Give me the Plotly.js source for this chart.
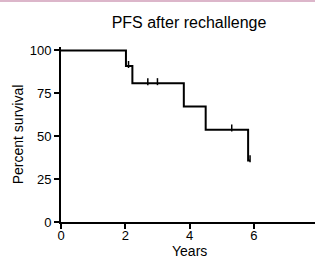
<!DOCTYPE html>
<html>
<head>
<meta charset="utf-8">
<script src="https://cdn.plot.ly/plotly-3.0.1.min.js"></script>
<style>
html,body{margin:0;padding:0;background:#fff;}
#bar{position:absolute;left:0;top:0;width:315px;height:2px;background:#dcb6ca;z-index:10;}
#chart{width:315px;height:262px;}
</style>
</head>
<body>
<div id="bar"></div>
<div id="chart"></div>
<script>
// Kaplan-Meier step curve
const stepTimes = [0, 2.02, 2.22, 3.82, 4.5, 5.82, 5.88];
const survival  = [100, 90.9, 80.8, 67.3, 53.8, 35.9, 35.9];
// censored observations
const censorTimes = [2.1, 2.7, 3.0, 5.31, 5.88];
const censorSurv  = [91.8, 81.8, 81.8, 54.8, 36.9];
const xTicks = [0, 2, 4, 6, 8];
const yTicks = [0, 25, 50, 75, 100];
const xTitle = 'Years';

const traces = [
  {x: stepTimes, y: survival, type: 'scatter', mode: 'lines',
   line: {shape: 'hv', color: '#000', width: 2}, hoverinfo: 'skip', cliponaxis: false},
  {x: censorTimes, y: censorSurv, type: 'scatter', mode: 'markers',
   marker: {symbol: 'line-ns', size: 5, line: {color: '#000', width: 1.5}}, cliponaxis: false}
];

const layout = {
  width: 315, height: 262,
  margin: {l: 61, r: 0, t: 47, b: 40},
  paper_bgcolor: '#fff', plot_bgcolor: '#fff',
  showlegend: false,
  font: {family: 'Liberation Sans, Arial, sans-serif', color: '#000', size: 13},
  title: {text: 'PFS after rechallenge', font: {size: 16, color: '#000'},
          x: 0.6, xanchor: 'center', y: 0.915, yanchor: 'middle'},
  xaxis: {range: [0, 7.9], tickvals: xTicks, ticktext: xTicks.map(String),
          showgrid: false, zeroline: false, showline: true, linecolor: '#000', linewidth: 2,
          ticks: 'outside', ticklen: 5, tickwidth: 2, tickcolor: '#000', ticklabelstandoff: -5,
          tickfont: {size: 13}},
  yaxis: {range: [0, 102], tickvals: yTicks, ticktext: yTicks.map(String),
          showgrid: false, zeroline: false, showline: true, linecolor: '#000', linewidth: 2,
          ticks: 'outside', ticklen: 5, tickwidth: 2, tickcolor: '#000',
          tickfont: {size: 13}, title: {text: 'Percent survival', font: {size: 14}, standoff: 3}},
  annotations: [{text: xTitle, xref: 'paper', yref: 'paper', x: 0.505, y: 0,
                 xanchor: 'center', yanchor: 'middle', yshift: -29, borderpad: 0, showarrow: false,
                 font: {size: 14, color: '#000'}}]
};

Plotly.newPlot('chart', traces, layout, {displayModeBar: false, staticPlot: true});
</script>
</body>
</html>
